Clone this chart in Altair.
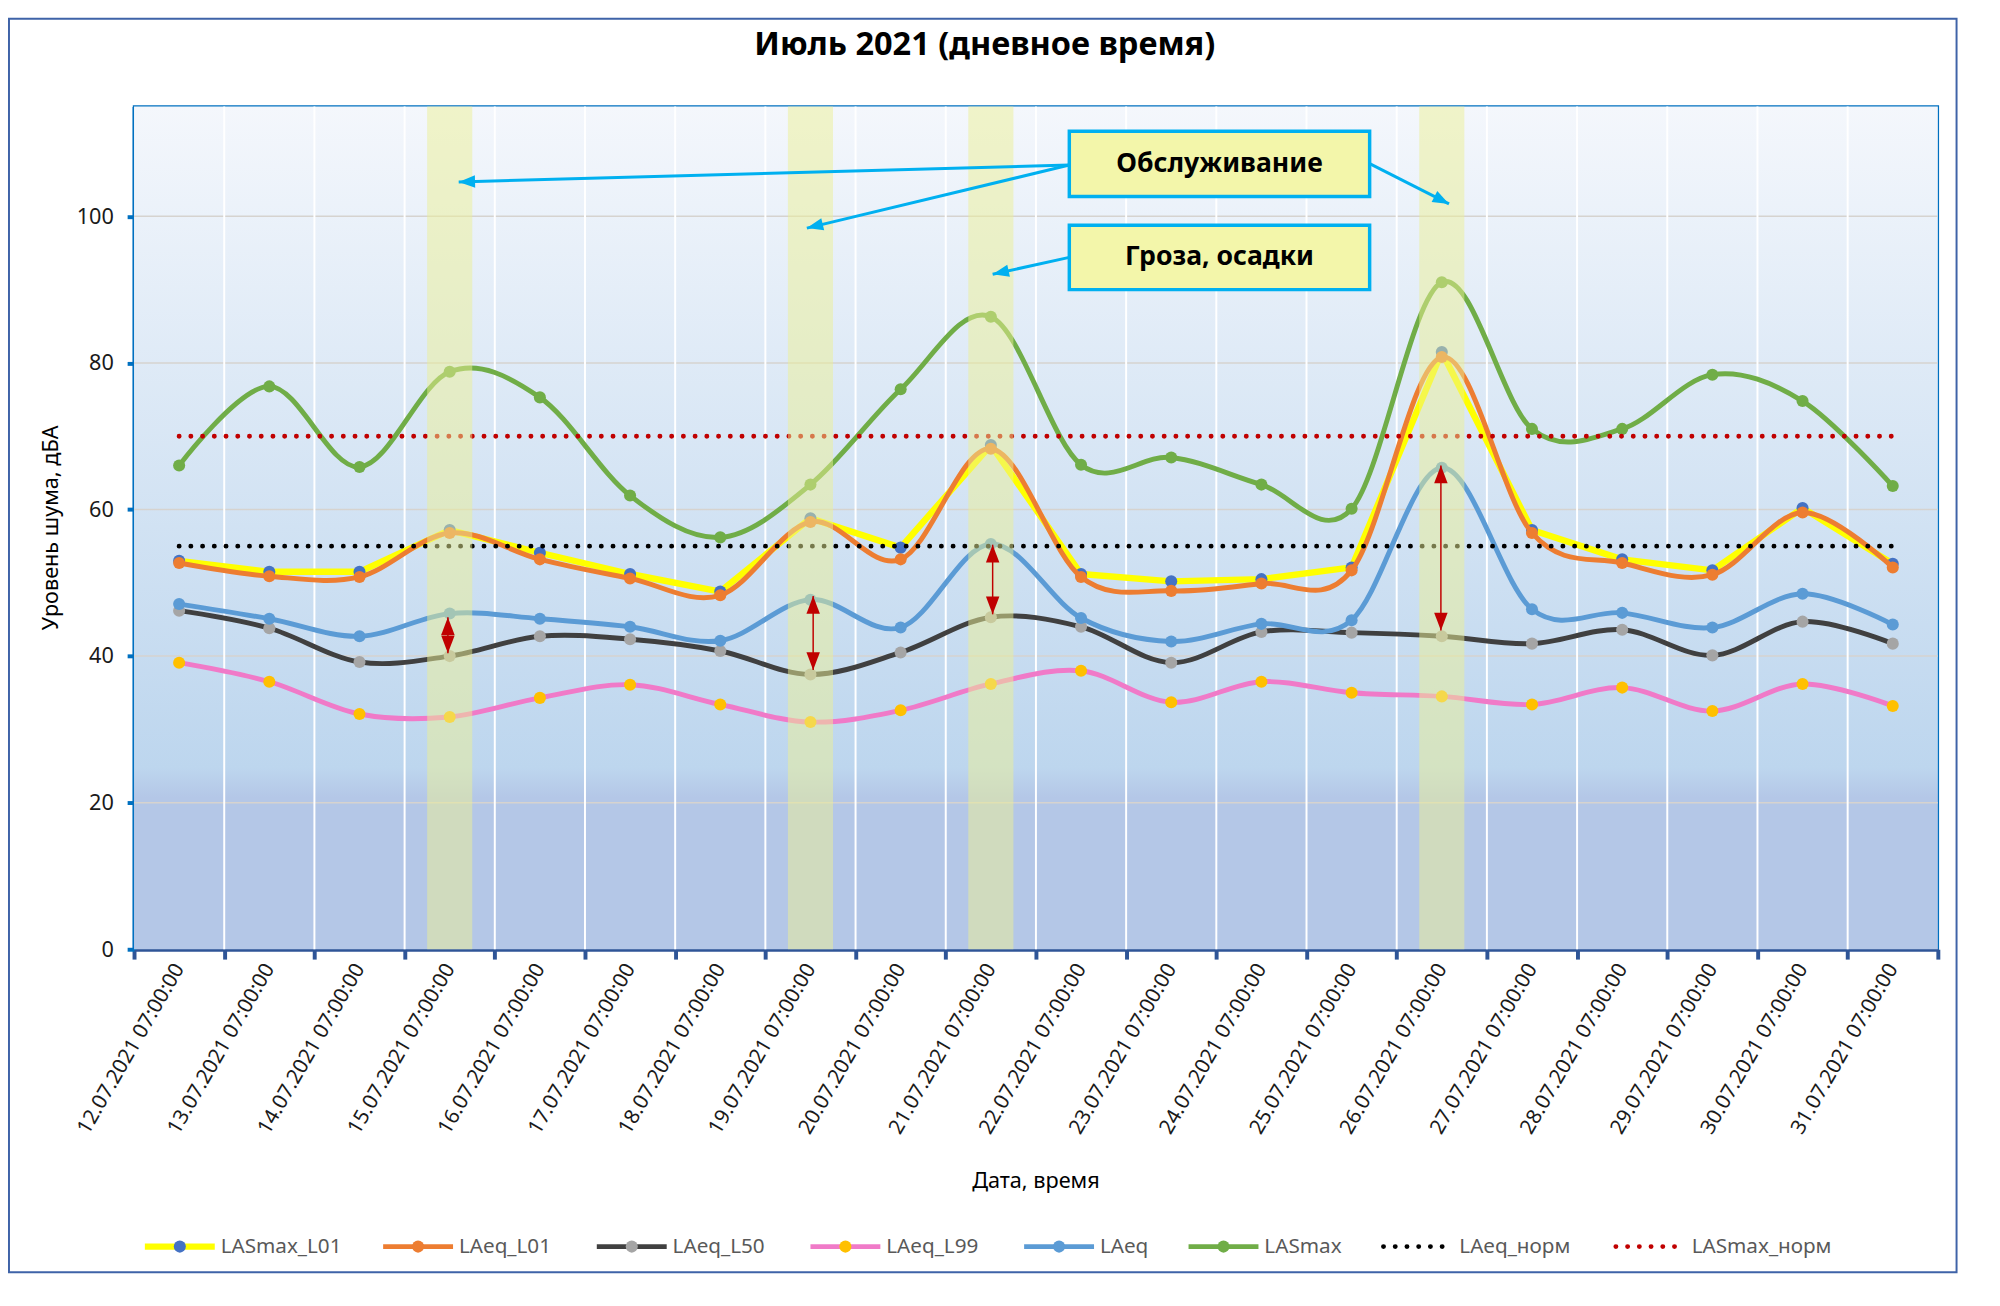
import math
import altair as alt
import pandas as pd

# ---------------- data ----------------
dates = ["12.07.2021 07:00:00", "13.07.2021 07:00:00", "14.07.2021 07:00:00",
         "15.07.2021 07:00:00", "16.07.2021 07:00:00", "17.07.2021 07:00:00",
         "18.07.2021 07:00:00", "19.07.2021 07:00:00", "20.07.2021 07:00:00",
         "21.07.2021 07:00:00", "22.07.2021 07:00:00", "23.07.2021 07:00:00",
         "24.07.2021 07:00:00", "25.07.2021 07:00:00", "26.07.2021 07:00:00",
         "27.07.2021 07:00:00", "28.07.2021 07:00:00", "29.07.2021 07:00:00",
         "30.07.2021 07:00:00", "31.07.2021 07:00:00"]

LASmax_L01 = [53.0, 51.5, 51.5, 57.2, 54.1, 51.2, 48.8, 58.8, 54.8, 68.8,
              51.2, 50.2, 50.5, 52.1, 81.5, 57.2, 53.2, 51.7, 60.2, 52.6]
LAeq_L01 = [52.7, 50.9, 50.8, 56.8, 53.2, 50.6, 48.3, 58.3, 53.2, 68.3,
            50.8, 48.9, 49.9, 51.7, 80.8, 56.8, 52.7, 51.1, 59.6, 52.1]
LAeq_L50 = [46.2, 43.8, 39.2, 40.0, 42.7, 42.3, 40.7, 37.5, 40.5, 45.3,
            44.0, 39.1, 43.3, 43.2, 42.7, 41.7, 43.6, 40.1, 44.7, 41.7]
LAeq_L99 = [39.1, 36.5, 32.1, 31.7, 34.3, 36.1, 33.4, 31.0, 32.6, 36.2,
            38.0, 33.7, 36.5, 35.0, 34.5, 33.4, 35.7, 32.5, 36.2, 33.2]
LAeq = [47.1, 45.1, 42.7, 45.8, 45.1, 44.0, 42.1, 47.7, 43.9, 55.3,
        45.2, 42.0, 44.4, 44.9, 65.7, 46.4, 45.9, 43.9, 48.5, 44.3]
LASmax = [66.0, 76.8, 65.8, 78.8, 75.3, 61.9, 56.2, 63.4, 76.4, 86.3,
          66.1, 67.1, 63.4, 60.1, 91.0, 71.0, 71.0, 78.4, 74.8, 63.2]
LAeq_norm = 55
LASmax_norm = 70

y_ticks = [0, 20, 40, 60, 80, 100]
y_max = 115

# highlighted days (index into dates)
highlight_idx = [3, 7, 9, 14]
# red difference arrows (x index position, top tip, bottom tip)
diff_x = [3.48, 7.53, 9.52, 14.49]
diff_top = [45.3, 48.2, 55.2, 66.0]
diff_bot = [40.4, 38.1, 45.7, 43.5]

# callout boxes
box_labels = ["Обслуживание", "Гроза, осадки"]
box_x0 = [10.37, 10.37]
box_x1 = [13.70, 13.70]
box_y0 = [102.7, 90.0]
box_y1 = [111.6, 98.8]
# callout arrows (start -> tip)
call_sx = [10.37, 10.37, 13.70, 10.37]
call_sy = [107.0, 107.0, 107.2, 94.4]
call_tx = [3.60, 7.46, 14.58, 9.52]
call_ty = [104.7, 98.4, 101.7, 92.1]

title_text = "Июль 2021 (дневное время)"
y_title = "Уровень шума, дБА"
x_title = "Дата, время"

# ---------------- layout / styles ----------------
W, H = 1832, 856
N = len(dates)
PX_X = W / N
PX_Y = H / y_max
FONT = "Noto Sans"
HEAD = "M0,0L-0.38,1L0.38,1Z"

label_js = "[" + ",".join("'" + d + "'" for d in dates) + "]"

x_scale = alt.Scale(domain=[0, N], nice=False, zero=False)
y_scale = alt.Scale(domain=[0, y_max], nice=False)

x_axis = alt.Axis(values=list(range(N + 1)),
                  labelExpr=f"datum.value < {N} ? {label_js}[datum.value] : ''",
                  labelAngle=-60, labelOffset=PX_X / 2, labelFont=FONT,
                  labelFontSize=21, labelColor="#1a1a1a", labelPadding=6,
                  labelOverlap=False, labelFlush=False, labelBound=False, labelLimit=0,
                  tickColor="#2f5597", tickWidth=4, tickSize=10,
                  domainColor="#2f5597", domainWidth=4, grid=False, title=None)
y_axis = alt.Axis(values=y_ticks, labelFont=FONT, labelFontSize=22,
                  labelColor="#1a1a1a", labelPadding=14,
                  tickColor="#0070c0", tickWidth=4, tickSize=7,
                  domainColor="#0070c0", domainWidth=4, grid=False, title=None)


def X(f):
    return alt.X(f, type="quantitative", scale=x_scale, axis=x_axis)


def Y(f):
    return alt.Y(f, type="quantitative", scale=y_scale, axis=y_axis)


one = pd.DataFrame({"a": [0]})
layers = []

# background gradient
bg = pd.DataFrame({"x0": [0], "x1": [N], "y0": [0], "y1": [y_max]})
grad = alt.Gradient(gradient="linear", x1=0, x2=0, y1=0, y2=1, stops=[
    alt.GradientStop(color="#f4f7fc", offset=0),
    alt.GradientStop(color="#bdd6ee", offset=0.785),
    alt.GradientStop(color="#b4c7e7", offset=0.82),
    alt.GradientStop(color="#b4c7e7", offset=1)])
layers.append(alt.Chart(bg).mark_rect(fill=grad).encode(
    x=X("x0"), x2="x1", y=Y("y0"), y2="y1"))

# gridlines
hg = pd.DataFrame({"g": [t for t in y_ticks if t > 0]})
layers.append(alt.Chart(hg).mark_rule(color="#d6d3cf", strokeWidth=1.5).encode(y=Y("g")))
vg = pd.DataFrame({"g": list(range(1, N))})
layers.append(alt.Chart(vg).mark_rule(color="#ffffff", strokeWidth=2).encode(x=X("g")))

xi = [i + 0.5 for i in range(N)]
series = [
    ("LASmax_L01", LASmax_L01, "#ffff00", "#4472c4", 6.5, "linear"),
    ("LAeq_L01", LAeq_L01, "#ed7d31", "#ed7d31", 5, "cardinal"),
    ("LAeq_L50", LAeq_L50, "#404040", "#a5a5a5", 5, "cardinal"),
    ("LAeq_L99", LAeq_L99, "#f07ac8", "#ffc000", 5, "cardinal"),
    ("LAeq", LAeq, "#5b9bd5", "#5b9bd5", 5, "cardinal"),
    ("LASmax", LASmax, "#70ad47", "#70ad47", 5, "cardinal"),
]
for name, vals, lc, mc, sw, interp in series:
    df = pd.DataFrame({"xi": xi, "v": vals})
    layers.append(alt.Chart(df).mark_line(color=lc, strokeWidth=sw, interpolate=interp,
                                          strokeCap="round", strokeJoin="round").encode(
        x=X("xi"), y=Y("v")))
    layers.append(alt.Chart(df).mark_circle(color=mc, size=150, opacity=1).encode(
        x=X("xi"), y=Y("v")))

# norm lines
norms = [("LAeq_норм", LAeq_norm, "#000000"), ("LASmax_норм", LASmax_norm, "#c00000")]
for name, v, c in norms:
    df = pd.DataFrame({"xi": [xi[0], xi[-1]], "v": [v, v]})
    layers.append(alt.Chart(df).mark_line(color=c, strokeWidth=5, strokeCap="round",
                                          strokeDash=[0.01, 11.9]).encode(
        x=X("xi"), y=Y("v")))

# highlight bands
bands = pd.DataFrame({"b0": [i + 0.25 for i in highlight_idx],
                      "b1": [i + 0.75 for i in highlight_idx],
                      "y0": [0] * len(highlight_idx), "y1": [y_max] * len(highlight_idx)})
layers.append(alt.Chart(bands).mark_rect(fill="#ebf096", opacity=0.5).encode(
    x=X("b0"), x2="b1", y=Y("y0"), y2="y1"))

# red difference arrows
dd = pd.DataFrame({"ax": diff_x, "at": diff_top, "ab": diff_bot})
layers.append(alt.Chart(dd).mark_rule(color="#c00000", strokeWidth=1.5).encode(
    x=X("ax"), y=Y("at"), y2="ab"))
heads = pd.DataFrame({"ax": diff_x + diff_x, "ay": diff_top + diff_bot,
                      "ang": [0] * len(diff_x) + [180] * len(diff_x)})
layers.append(alt.Chart(heads).mark_point(shape=HEAD, filled=True, color="#c00000",
                                          size=1296, opacity=1).encode(
    x=X("ax"), y=Y("ay"), angle=alt.Angle("ang:Q", scale=None)))

# callout arrows
angs = []
for sx, sy, tx, ty in zip(call_sx, call_sy, call_tx, call_ty):
    dxp = (tx - sx) * PX_X
    dyp = -(ty - sy) * PX_Y
    angs.append(math.degrees(math.atan2(dxp, -dyp)) % 360)
ca = pd.DataFrame({"sx": call_sx, "sy": call_sy, "tx": call_tx, "ty": call_ty, "ang": angs})
layers.append(alt.Chart(ca).mark_rule(color="#00b0f0", strokeWidth=3).encode(
    x=X("sx"), y=Y("sy"), x2="tx", y2="ty"))
layers.append(alt.Chart(ca).mark_point(shape=HEAD, filled=True, color="#00b0f0",
                                       size=1100, opacity=1).encode(
    x=X("tx"), y=Y("ty"), angle=alt.Angle("ang:Q", scale=None)))

# callout boxes
bx = pd.DataFrame({"x0": box_x0, "x1": box_x1, "y0": box_y0, "y1": box_y1, "t": box_labels})
bx["xc"] = (bx["x0"] + bx["x1"]) / 2
bx["yc"] = (bx["y0"] + bx["y1"]) / 2
layers.append(alt.Chart(bx).mark_rect(fill="#f3f6aa", stroke="#00b0f0", strokeWidth=3.5).encode(
    x=X("x0"), x2="x1", y=Y("y0"), y2="y1"))
layers.append(alt.Chart(bx).mark_text(font=FONT, fontSize=27, fontWeight="bold",
                                      color="#000000", baseline="middle", align="center").encode(
    x=X("xc"), y=Y("yc"), text="t:N"))

# titles
layers.append(alt.Chart(one).mark_text(text=title_text, font=FONT, fontSize=33,
                                       fontWeight="bold", color="#000000",
                                       align="center", baseline="middle").encode(
    x=alt.value(864), y=alt.value(-62)))
layers.append(alt.Chart(one).mark_text(text=y_title, font=FONT, fontSize=22, angle=270,
                                       color="#000000", align="center", baseline="middle").encode(
    x=alt.value(-84), y=alt.value(H / 2)))
layers.append(alt.Chart(one).mark_text(text=x_title, font=FONT, fontSize=22,
                                       color="#000000", align="center", baseline="middle").encode(
    x=alt.value(W / 2), y=alt.value(1091)))

# manual legend
leg_y = 1158
leg_x = [11, 253, 470, 687, 904, 1071, 1267, 1503]
leg_len = 71
leg_items = [(s[0], s[2], s[3], s[4], False) for s in series] + \
            [(n[0], n[2], None, 5, True) for n in norms]
for (name, lc, mc, sw, dotted), lx in zip(leg_items, leg_x):
    if dotted:
        layers.append(alt.Chart(one).mark_rule(color=lc, strokeWidth=5, strokeCap="round",
                                               strokeDash=[0.01, 11.9]).encode(
            x=alt.value(lx + 2), x2=alt.value(lx + 2 + 6 * 11.9 - 5), y=alt.value(leg_y)))
        tx = lx + 79
    else:
        layers.append(alt.Chart(one).mark_rule(color=lc, strokeWidth=sw).encode(
            x=alt.value(lx), x2=alt.value(lx + leg_len), y=alt.value(leg_y)))
        layers.append(alt.Chart(one).mark_circle(color=mc, size=150, opacity=1).encode(
            x=alt.value(lx + leg_len / 2), y=alt.value(leg_y)))
        tx = lx + leg_len + 6
    layers.append(alt.Chart(one).mark_text(text=name, font=FONT, fontSize=21, color="#595959",
                                           align="left", baseline="middle").encode(
        x=alt.value(tx), y=alt.value(leg_y)))

# outer frame
layers.append(alt.Chart(one).mark_rect(fill="#ffffff", fillOpacity=0, stroke="#3f63a8",
                                       strokeWidth=2).encode(
    x=alt.value(-127), x2=alt.value(W + 19), y=alt.value(-89), y2=alt.value(1184)))

chart = alt.layer(*layers).properties(width=W, height=H, padding=0, background="#ffffff") \
    .configure_view(stroke="#0070c0", strokeWidth=2.5)

chart.save("out.html", embed_options={"renderer": "svg", "actions": False})
